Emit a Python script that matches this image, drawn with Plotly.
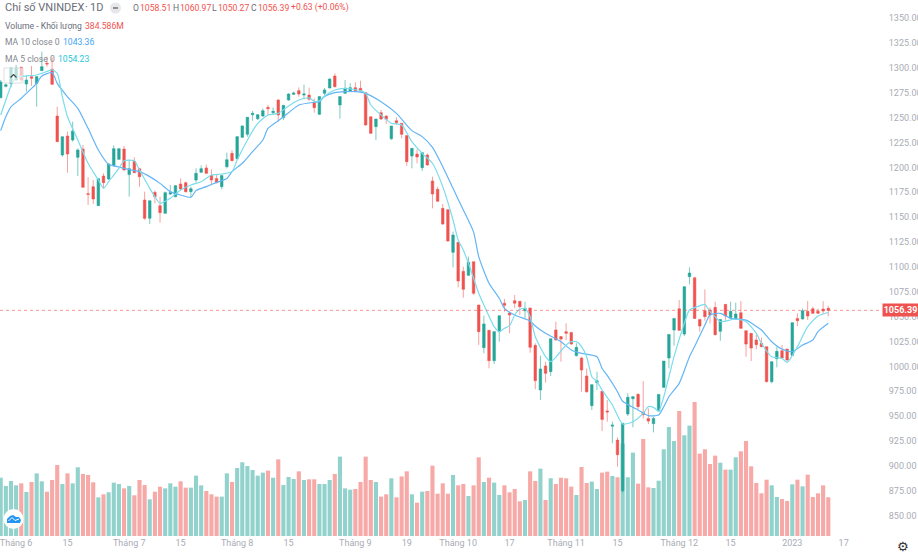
import plotly.graph_objects as go

opens = [
    1270, 1281.5, 1284.5, 1288, 1300.6, 1283.9, 1291.2, 1284.5, 1297.3, 1304.7,
    1298.6, 1251.7, 1212.5, 1231.6, 1227.6, 1210.2, 1218.5, 1173.6, 1180.7, 1161.6,
    1191.4, 1188.4, 1201.5, 1208.2, 1218.5, 1192.8, 1206.2, 1198.8, 1167.3, 1148.9,
    1175, 1161.6, 1153.9, 1173.3, 1170.6, 1183.4, 1184.7, 1175.7, 1187.4, 1195.1,
    1199.5, 1191.8, 1189, 1180.7, 1200.8, 1214.2, 1208.8, 1230.3, 1233.3, 1253,
    1249, 1251.7, 1260.4, 1255.1, 1267.8, 1250, 1267.8, 1273.5, 1277.2, 1272.8,
    1272.8, 1265.1, 1253.4, 1274.5, 1279.9, 1291.9, 1262.8, 1274.5, 1276.2, 1280.2,
    1279.5, 1275.2, 1251, 1241, 1255.1, 1251.7, 1228.9, 1247, 1244.4, 1232,
    1211.5, 1213.5, 1199.8, 1212.5, 1186.4, 1178, 1158.9, 1157.6, 1114.7, 1124.8,
    1095.6, 1091.6, 1105.3, 1061.8, 1018.9, 1036.3, 1005.8, 1035, 1063.5, 1053.7,
    1066.1, 1065.5, 1056.1, 1058.8, 1021.2, 976.4, 1000.5, 994.8, 1036.7, 1030,
    1035, 1034, 1010.9, 1008.5, 990.4, 960.6, 983.7, 975, 955.3, 940,
    926, 875.1, 952.2, 967.6, 972, 953.9, 947.8, 942.5, 955.2, 979,
    1008.5, 1036.6, 1058, 1032.6, 1090.2, 1089.2, 1047.3, 1056, 1056.7, 1059.4,
    1035.3, 1062.4, 1049, 1047.7, 1054, 1035.9, 1033.3, 1026.6, 1023.2, 1019.9,
    984.7, 1007.8, 1015.8, 1017.5, 1011.1, 1048.3, 1047.7, 1055.4, 1058, 1055.4,
    1057.7, 1058.51,
]
highs = [
    1288, 1284.5, 1301, 1303, 1301.3, 1292.9, 1302, 1291.9, 1316.4, 1311.3,
    1310.7, 1261.1, 1230.9, 1236, 1246, 1219.2, 1222.6, 1190.1, 1187.4, 1189,
    1194.1, 1204.2, 1222.2, 1218.9, 1221.6, 1207.5, 1210.2, 1199.1, 1175.7, 1166.6,
    1176.7, 1170.6, 1175.7, 1182.4, 1182.4, 1189, 1185.7, 1180.7, 1199.1, 1202.1,
    1202.8, 1198.1, 1193.4, 1192.4, 1214.9, 1217.5, 1231.6, 1242.3, 1250.4, 1256.7,
    1253.7, 1259.4, 1262.8, 1260.4, 1268.5, 1262.4, 1274.5, 1276.2, 1280.5, 1283.2,
    1280.2, 1269.5, 1271.2, 1279.9, 1289.6, 1294.6, 1271.2, 1287.9, 1284.6, 1285.6,
    1287.2, 1275.2, 1251, 1248.7, 1257.8, 1252.4, 1241.7, 1250.4, 1244.4, 1232,
    1219.2, 1218.2, 1215.5, 1214.2, 1190.8, 1180.7, 1163.3, 1157.6, 1135.5, 1124.8,
    1100.3, 1110.4, 1105.3, 1061.8, 1051, 1036.3, 1035, 1051, 1068.1, 1055.1,
    1071.8, 1065.5, 1065.1, 1058.8, 1023.3, 1010.9, 1004.8, 1027.9, 1045, 1030.5,
    1043.3, 1035, 1023.3, 1009.8, 998, 981.7, 994.7, 975, 966.3, 944.5,
    928.7, 942.8, 973, 970.3, 973, 985.3, 957.9, 949.5, 971.9, 1005.4,
    1032.2, 1048.3, 1066.8, 1080.2, 1099.6, 1089.2, 1047.3, 1077.5, 1059.4, 1065.1,
    1047.3, 1062.4, 1065.1, 1064.1, 1065.7, 1035.9, 1033.3, 1032.2, 1029.2, 1019.9,
    1004.8, 1019.9, 1021.5, 1017.5, 1044, 1053.4, 1058.4, 1065.7, 1060, 1058,
    1065.7, 1060.97,
]
lows = [
    1270, 1280.5, 1280.5, 1287, 1286.2, 1276.2, 1281.9, 1261.1, 1297.3, 1301.3,
    1282.9, 1225.9, 1210.8, 1194.8, 1225.9, 1191.4, 1180, 1162.3, 1163.3, 1161.6,
    1179, 1187.4, 1200.8, 1207.5, 1196.8, 1170.7, 1194.1, 1180.7, 1147.2, 1143.2,
    1164, 1144.5, 1153.9, 1172.3, 1170, 1176.7, 1174.7, 1170, 1184.7, 1194.8,
    1193.4, 1183.4, 1184, 1178, 1199.1, 1206.2, 1208.2, 1229.6, 1230.9, 1247,
    1247.7, 1251, 1252.7, 1252.7, 1246, 1247.7, 1267.1, 1272.8, 1271.1, 1268.5,
    1267.1, 1255.1, 1252.7, 1272.8, 1279.5, 1280.5, 1249, 1273.8, 1275.8, 1276.2,
    1276.2, 1242, 1233.6, 1227.6, 1247.7, 1243.7, 1227.6, 1242.7, 1229.3, 1201.5,
    1199.1, 1204.2, 1196.4, 1201.8, 1158.9, 1165.6, 1142.2, 1125.4, 1099.6, 1079.5,
    1069.1, 1090.9, 1071.8, 1021.6, 1013.2, 998.1, 1002.5, 1024.9, 1055.1, 1033.3,
    1058.4, 1051.7, 1048.4, 1013.9, 977, 966.3, 983.7, 990.4, 1025.9, 1004.8,
    1026.6, 1021.6, 1009.9, 974.6, 973.6, 956.2, 976.3, 935.1, 944.5, 922.7,
    899.3, 873.1, 950.2, 938.8, 956.9, 947.8, 942.1, 933.8, 954.5, 978.3,
    998.1, 1020.9, 1035.6, 1030.6, 1082.5, 1047.7, 1034.9, 1046, 1043.3, 1031.2,
    1025.9, 1046, 1048.3, 1046.7, 1037.6, 1009.8, 1005.4, 1017.2, 1019.2, 984,
    983, 999.1, 1007.8, 1005.8, 1010.5, 1040.6, 1047.3, 1046.7, 1052.7, 1052.7,
    1052.7, 1050.27,
]
closes = [
    1286, 1283, 1299.6, 1299.6, 1287.9, 1287.9, 1289.6, 1291.2, 1301.3, 1304,
    1283.5, 1225.9, 1230.9, 1213.5, 1236.6, 1217.5, 1180, 1173, 1168.3, 1188.7,
    1184.7, 1203.5, 1218.9, 1218.9, 1197.4, 1198.8, 1194.8, 1190.7, 1148.9, 1166.6,
    1170.6, 1154.6, 1174.7, 1174.7, 1181.7, 1178.4, 1175.7, 1178.7, 1194.1, 1198.8,
    1194.1, 1187.4, 1184.7, 1191.8, 1207.8, 1206.8, 1230.9, 1241.7, 1250.4, 1254.4,
    1253, 1257.1, 1259.1, 1256.4, 1252.7, 1262.4, 1273.8, 1274.8, 1273.8, 1273.8,
    1268.5, 1260.1, 1271.2, 1277.9, 1288.9, 1281.2, 1271.2, 1279.5, 1280.2, 1277.2,
    1276.8, 1242.7, 1234.3, 1248.7, 1248.7, 1248.4, 1241.7, 1245, 1233.3, 1205.8,
    1219.2, 1210.5, 1214.9, 1202.5, 1173.3, 1166, 1143.2, 1126.1, 1132.1, 1085.9,
    1077.5, 1104.7, 1073.5, 1035, 1042.7, 1005.8, 1035, 1051, 1061.4, 1051.7,
    1063.5, 1060.1, 1058.4, 1019.2, 985.7, 997.5, 993.1, 1027.9, 1026.6, 1027.5,
    1033.3, 1022.6, 1019.2, 996.4, 974.6, 981.7, 985.7, 946.8, 954.3, 941,
    911.3, 942.8, 969, 969.6, 959.6, 951.5, 945.1, 947.8, 971.9, 1005.4,
    1032.2, 1048.3, 1036.3, 1080.2, 1093.9, 1048.3, 1040.6, 1050, 1051.7, 1031.9,
    1047.3, 1050.7, 1055.4, 1052.7, 1038.3, 1022.5, 1018.5, 1021.9, 1019.9, 984.7,
    1004.8, 1015.2, 1008.5, 1006.5, 1044, 1046, 1056, 1050.7, 1053.4, 1053.4,
    1055.7, 1056.39,
]
# khoi luong, trieu co phieu
volumes = [
    579, 497, 546, 503, 523, 437, 536, 622, 543, 440,
    556, 705, 516, 622, 523, 682, 616, 606, 533, 384,
    414, 434, 530, 516, 473, 497, 404, 556, 506, 364,
    440, 490, 473, 523, 490, 543, 480, 480, 599, 503,
    447, 414, 391, 391, 622, 536, 675, 732, 695, 655,
    599, 629, 649, 579, 761, 506, 586, 566, 642, 556,
    563, 563, 516, 516, 556, 616, 788, 473, 460, 467,
    536, 788, 556, 536, 391, 414, 573, 384, 592, 642,
    414, 331, 440, 447, 698, 420, 523, 420, 606, 503,
    516, 397, 503, 781, 536, 579, 530, 407, 503, 434,
    467, 344, 357, 642, 546, 669, 357, 573, 516, 579,
    573, 490, 407, 685, 526, 540, 467, 629, 639, 596,
    583, 917, 583, 828, 520, 963, 483, 477, 549, 861,
    1082, 943, 1241, 1000, 1096, 1331, 818, 861, 715, 798,
    728, 659, 659, 781, 841, 943, 692, 526, 424, 559,
    503, 387, 367, 348, 513, 559, 493, 609, 387, 424,
    503, 384.586,
]

ma10_sessions = [
    0, 1, 2, 4, 5, 7, 8, 10, 11, 13, 15, 17, 19, 21, 22, 24, 26, 27, 29, 31, 33, 35, 37, 38,
    40, 42, 44, 45, 47, 49, 51, 52, 54, 56, 58, 61, 62, 63, 65, 67, 69, 71, 74, 77, 80, 82,
    84, 86, 88, 90, 92, 93, 95, 97, 98, 100, 103, 104, 106, 109, 111, 113, 116, 117, 118,
    120, 121, 124, 126, 128, 129, 130, 132, 134, 135, 137, 138, 140, 142, 145, 148, 150,
    152, 154, 156, 158, 159, 161,
]
ma10_values = [
    1237, 1251, 1261, 1269.5, 1274.5, 1284.5, 1292, 1295.3, 1284.5, 1271, 1259.4, 1239.3,
    1217.5, 1203, 1201.8, 1199.1, 1196.8, 1195.8, 1190.8, 1184, 1175.7, 1172.3, 1170, 1176.7,
    1180.7, 1185, 1189, 1195.8, 1204.2, 1215.9, 1227.6, 1239.3, 1247, 1255, 1262.8, 1265.5,
    1266.1, 1271.2, 1275.2, 1276.2, 1276.2, 1274.5, 1266.1, 1254.4, 1237, 1231, 1220.2,
    1200.8, 1179, 1157.3, 1135, 1110.4, 1083.6, 1068.5, 1058.4, 1051.7, 1045.7, 1040.7,
    1033.3, 1024.9, 1016.6, 1013.2, 1009.8, 998, 991, 974.6, 965, 956.2, 950.5, 951.2,
    959.6, 969.6, 983, 1009.8, 1020, 1041.6, 1051.7, 1053.4, 1048.3, 1046.6, 1036.6, 1024.9,
    1017.5, 1014.8, 1021.5, 1026.6, 1035, 1043.36,
]
ma5_sessions = [
    0, 1, 2, 3, 5, 7, 8, 10, 11, 12, 13, 15, 17, 19, 20, 21, 23, 24, 26, 27, 29, 30, 31, 33,
    35, 37, 39, 41, 43, 45, 46, 48, 50, 52, 54, 56, 58, 60, 61, 62, 63, 65, 67, 70, 71, 72,
    74, 76, 78, 80, 82, 84, 86, 88, 89, 90, 91, 92, 93, 94, 96, 97, 98, 99, 100, 101, 102,
    103, 104, 106, 107, 108, 110, 111, 112, 113, 114, 115, 116, 117, 119, 121, 123, 125,
    126, 127, 128, 129, 131, 133, 134, 136, 137, 138, 139, 140, 143, 145, 147, 148, 150,
    152, 153, 155, 157, 159, 161,
]
ma5_values = [
    1252.7, 1267.8, 1281.9, 1290.6, 1291.9, 1292.9, 1294.6, 1298, 1294.6, 1271, 1251, 1227.6,
    1204.2, 1187.4, 1179, 1185.7, 1199.1, 1206.8, 1206.8, 1197.4, 1179, 1170.6, 1164, 1169,
    1177.3, 1182.4, 1185.7, 1192.4, 1193.4, 1195.8, 1207.5, 1227.6, 1244.3, 1252.7, 1254.4,
    1261.8, 1267.8, 1270, 1266.5, 1267.1, 1271.8, 1277.9, 1279.5, 1277.2, 1274.5, 1262.8,
    1252.7, 1244.4, 1242.7, 1225.9, 1214.2, 1204.2, 1180.7, 1147.2, 1127, 1117, 1103.7,
    1088.6, 1073.5, 1061.8, 1040, 1035, 1038.3, 1041, 1051.7, 1057.4, 1058.4, 1050, 1029.9,
    1009.9, 1004.8, 1009.2, 1021.6, 1024.9, 1024.9, 1019.9, 1009.8, 989.7, 984.7, 976.3,
    961.2, 942.1, 944.5, 952.9, 959.6, 958.9, 955.2, 969.6, 1009.8, 1043.3, 1056.7, 1061,
    1062.4, 1055, 1050, 1045, 1047.7, 1045, 1033.3, 1023.2, 1009.8, 1008.1, 1004.1, 1019.9,
    1040, 1050.7, 1054.23,
]

tick_sessions = [3, 13, 25, 35, 46, 56, 69, 79, 89, 99, 110, 120, 132, 142, 154, 164]
tick_labels = ['Tháng 6', '15', 'Tháng 7', '15', 'Tháng 8', '15', 'Tháng 9', '19', 'Tháng 10',
               '17', 'Tháng 11', '15', 'Tháng 12', '15', '2023', '17']
last_price = 1056.39

RED = '#ef5350'
TEAL = '#26a69a'
FONT = 'Liberation Sans Narrow, Roboto, sans-serif'
W = 918
H = 554
PLOT_R = 881
PLOT_B = 536

sessions = list(range(len(closes)))
vol_colors = ['rgba(38,166,154,0.5)' if c >= o else 'rgba(239,83,80,0.5)' for o, c in zip(opens, closes)]

def px(x):
    return x / W

def py(y):
    return 1 - y / H

def label(x, y, text, color='#6a6d78', size=8.6, **kw):
    return dict(xref='paper', yref='paper', x=px(x), y=py(y), text=text, showarrow=False, xanchor='left',
                yanchor='middle', align='left', borderpad=0, font=dict(family=FONT, size=size, color=color), **kw)

fig = go.Figure()
fig.add_trace(go.Bar(x=sessions, y=volumes, marker=dict(color=vol_colors, line_width=0), yaxis='y'))
fig.add_trace(go.Candlestick(
    x=sessions, open=opens, high=highs, low=lows, close=closes, yaxis='y2', whiskerwidth=0,
    increasing=dict(line=dict(color='rgba(38,166,154,0.6)', width=1), fillcolor=TEAL),
    decreasing=dict(line=dict(color='rgba(239,83,80,0.55)', width=1), fillcolor=RED),
))
fig.add_trace(go.Scatter(x=ma10_sessions, y=ma10_values, mode='lines', yaxis='y2',
                         line=dict(color='#64b5f6', width=1.2, shape='spline', smoothing=0.6)))
fig.add_trace(go.Scatter(x=ma5_sessions, y=ma5_values, mode='lines', yaxis='y2',
                         line=dict(color='#7adcec', width=1.2, shape='spline', smoothing=0.6)))

annotations = [
    label(4, 8, 'Chỉ số VNINDEX', size=11),
    label(84, 8, '·', size=11),
    label(89, 8, '1D', size=11),
    label(132, 8, 'O'),
    label(139, 8, '1058.51', color=RED),
    label(172, 8, 'H'),
    label(179, 8, '1060.97', color=RED),
    label(211, 8, 'L'),
    label(217, 8, '1050.27', color=RED),
    label(250, 8, 'C'),
    label(257, 8, '1056.39', color=RED),
    label(290, 8, '+0.63 (+0.06%)', color=RED),
    label(4, 26, 'Volume - Khối lượng'),
    label(84, 26, '384.586M', color=RED),
    label(4, 42, 'MA 10 close 0', color='#85888f'),
    label(62, 42, '1043.36', color='#42a5f5'),
    label(4, 59, 'MA 5 close 0', color='#85888f'),
    label(57, 59, '1054.23', color='#26c6da'),
    dict(xref='paper', yref='y2', x=px(900), y=last_price, text='<b>1056.39</b>', showarrow=False,
         xanchor='center', yanchor='middle', width=35, height=12, bgcolor=RED, borderpad=0,
         font=dict(family=FONT, size=9, color='white')),
    dict(xref='paper', yref='paper', x=px(903), y=py(546), text='⚙', showarrow=False,
         xanchor='center', yanchor='middle', font=dict(family='DejaVu Sans', size=13, color='#333')),
]

shapes = [
    # duong gia cuoi
    dict(type='line', xref='paper', yref='y2', x0=0, x1=px(PLOT_R), y0=last_price, y1=last_price,
         line=dict(color='rgba(239,83,80,0.6)', width=1, dash='dot')),
    # nut an/hien chu thich
    dict(type='rect', xref='paper', yref='paper', x0=px(4), x1=px(23), y0=py(83), y1=py(68),
         fillcolor='rgba(255,255,255,0.65)', line=dict(color='rgba(200,204,210,0.6)', width=1)),
    dict(type='path', xref='paper', yref='paper',
         path=f'M {px(10.5)} {py(77.5)} L {px(13.5)} {py(74.5)} L {px(16.5)} {py(77.5)}',
         line=dict(color='#444', width=1.2)),
    dict(type='circle', xref='paper', yref='paper', x0=px(110), x1=px(121), y0=py(13.5), y1=py(2.5),
         fillcolor='#e6e7ea', line_width=0),
    dict(type='line', xref='paper', yref='paper', x0=px(113), x1=px(118), y0=py(8), y1=py(8),
         line=dict(color='#555', width=1.2)),
    # logo
    dict(type='circle', xref='paper', yref='paper', x0=px(3.5), x1=px(23.5), y0=py(529), y1=py(509),
         fillcolor='white', line_width=0),
    dict(type='path', xref='paper', yref='paper', fillcolor='#2196f3', line_width=0,
         path=(f'M {px(7)} {py(523)} L {px(7)} {py(519)} L {px(10)} {py(516)} L {px(13)} {py(515)} L {px(16)} {py(517)} '
               f'L {px(19)} {py(517)} L {px(21)} {py(520)} L {px(20)} {py(523)} Z')),
    dict(type='path', xref='paper', yref='paper',
         path=f'M {px(8.5)} {py(521)} L {px(12)} {py(517.5)} L {px(15)} {py(520.5)} L {px(19)} {py(519)}',
         line=dict(color='white', width=1)),
]

fig.update_layout(
    width=W,
    height=H,
    autosize=False,
    showlegend=False,
    paper_bgcolor='white',
    plot_bgcolor='white',
    margin=dict(l=0, r=0, t=0, b=0, pad=0),
    bargap=0.2,
    boxgap=0.3,
    font=dict(family=FONT, size=9, color='#a9acb5'),
    xaxis=dict(domain=[0, PLOT_R / W], range=[-0.136, 171.26], tickmode='array', tickvals=tick_sessions,
               ticktext=tick_labels, showgrid=False, zeroline=False, showline=False, ticks='',
               rangeslider=dict(visible=False), tickangle=0, automargin=False, ticklabeloverflow='allow'),
    yaxis=dict(domain=[1 - PLOT_B / H, 1], range=[0, 5322], visible=False, showgrid=False, zeroline=False,
               automargin=False),
    yaxis2=dict(domain=[1 - PLOT_B / H, 1], range=[829.6, 1368.3], overlaying='y', side='right', tick0=850,
                dtick=25, tickformat='.2f', showgrid=False, zeroline=False, showline=False, ticks='outside',
                ticklen=5, tickcolor='white', automargin=False),
    annotations=annotations,
    shapes=shapes,
)

fig.write_html('out.html', post_script="document.body.style.margin='0';", config={'displayModeBar': False})
